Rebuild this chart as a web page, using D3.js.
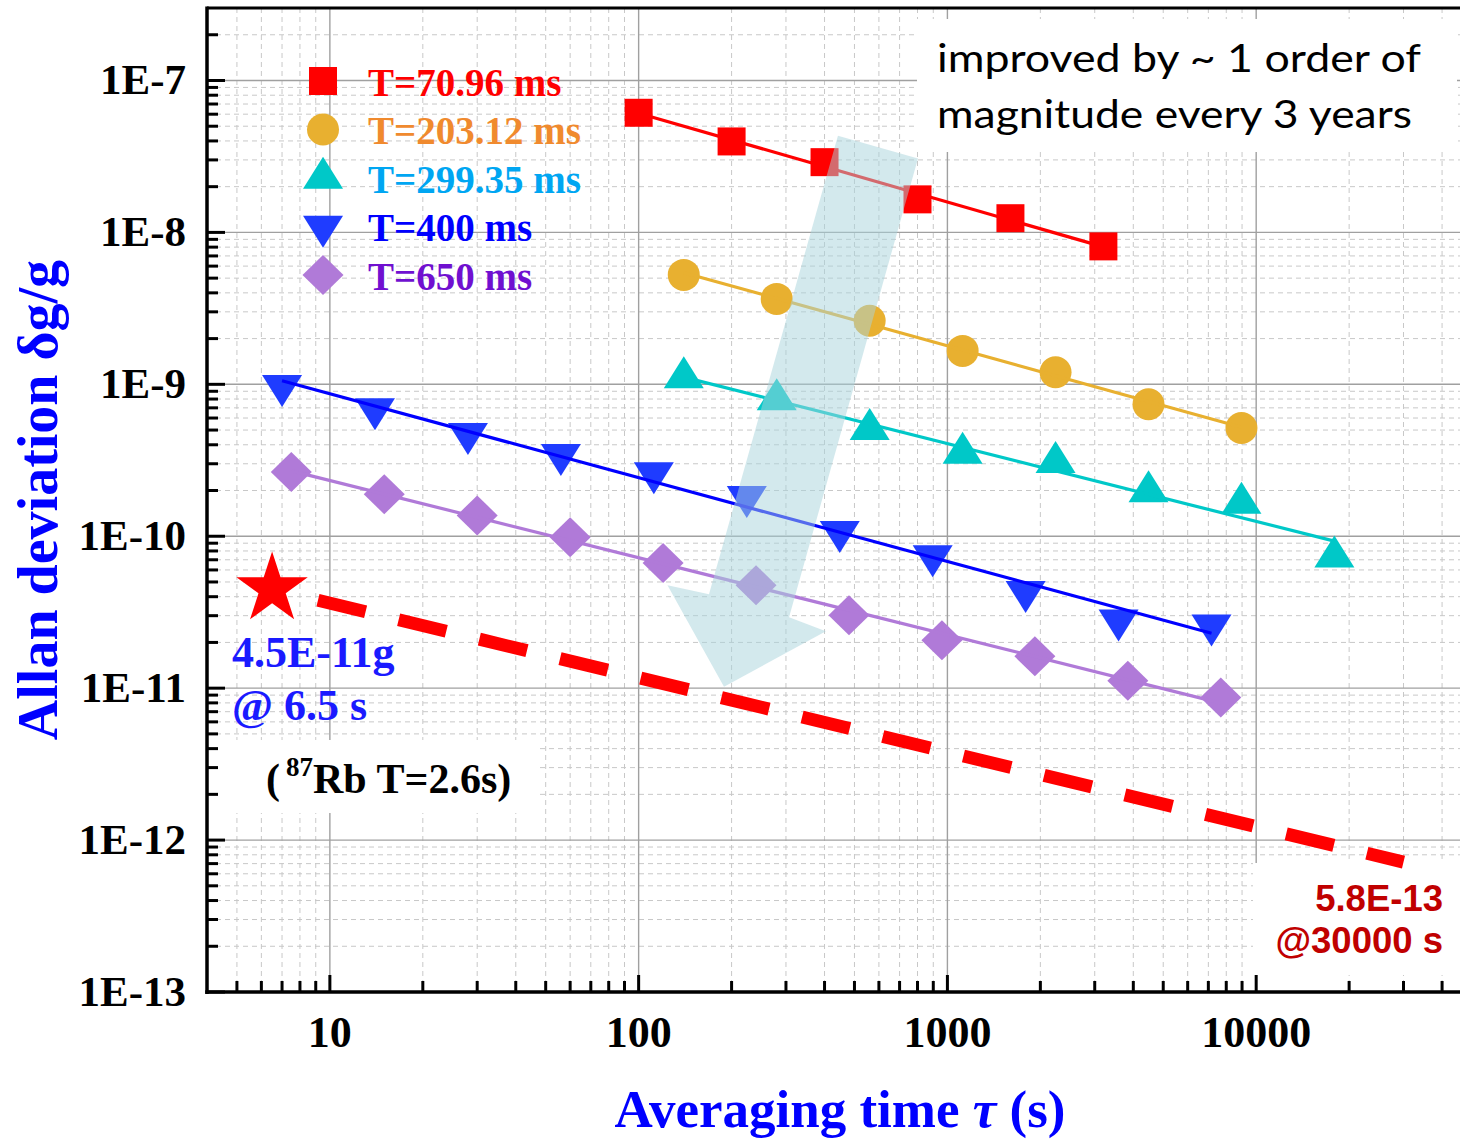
<!DOCTYPE html>
<html>
<head>
<meta charset="utf-8">
<script src="https://cdn.jsdelivr.net/npm/d3@7"></script>
<style>
body{margin:0;background:#fff}
text{font-family:"Times New Roman","Liberation Serif",serif;font-weight:bold}
</style>
</head>
<body>
<div id="chart"></div>
<script>
// data (tau in s, Allan deviation dg/g)
var tau71 = [100, 200, 400, 800, 1600, 3200];
var val71 = [6.13e-8, 3.97e-8, 2.90e-8, 1.65e-8, 1.24e-8, 8.09e-9];

var tau203 = [140, 280, 560, 1120, 2240, 4480, 8960];
var val203 = [5.25e-9, 3.65e-9, 2.62e-9, 1.66e-9, 1.20e-9, 7.39e-10, 5.16e-10];

var tau299 = [140, 280, 560, 1120, 2240, 4480, 8960, 17920];
var val299 = [1.107e-9, 7.93e-10, 5.06e-10, 3.53e-10, 3.07e-10, 1.97e-10, 1.65e-10, 7.32e-11];

var tau400 = [7, 14, 28, 56, 112, 224, 448, 896, 1792, 3584, 7168];
var val400 = [9.79e-10, 6.88e-10, 4.73e-10, 3.44e-10, 2.61e-10, 1.82e-10, 1.07e-10, 7.42e-11, 4.32e-11, 2.80e-11, 2.60e-11];

var tau650 = [7.5, 15, 30, 60, 120, 240, 480, 960, 1920, 3840, 7680];
var val650 = [2.65e-10, 1.89e-10, 1.37e-10, 9.85e-11, 6.67e-11, 4.76e-11, 3.02e-11, 2.07e-11, 1.62e-11, 1.12e-11, 8.68e-12];

var seriesNames = ["T=70.96 ms", "T=203.12 ms", "T=299.35 ms", "T=400 ms", "T=650 ms"];

// Rb record point and projected line
var starTau = 6.5, starVal = 4.5e-11;
var projTau = [9.15, 30000];
var projVal = [3.79e-11, 7.16e-13];

// trend arrow outline (tau, value)
var arrowTau = [442, 803, 307, 404, 189, 124, 169];
var arrowVal = [4.32e-8, 3.07e-8, 2.93e-11, 2.37e-11, 1.02e-11, 4.76e-11, 4.15e-11];

var xTickLabels = ["10", "100", "1000", "10000"];
var yTickLabels = ["1E-7", "1E-8", "1E-9", "1E-10", "1E-11", "1E-12", "1E-13"];

var W = 1460, H = 1139;
var L = 207, R = 1472, T = 8, B = 992;

var x = d3.scaleLog().domain([4, 50000]).range([L, R]);
var y = d3.scaleLog().domain([1e-13, 3e-7]).range([B, T]);

var svg = d3.select("#chart").append("svg")
  .attr("width", W).attr("height", H);

svg.append("defs").append("clipPath").attr("id", "plot")
  .append("rect").attr("x", L).attr("y", T).attr("width", R - L).attr("height", B - T);

var plot = svg.append("g").attr("clip-path", "url(#plot)");

// minor / major tick values
var xMinor = [], yMinor = [];
for (var e = 0; e <= 4; e++) {
  for (var m = 2; m <= 9; m++) {
    var v = m * Math.pow(10, e);
    if (v > 4 && v < 50000) xMinor.push(v);
  }
}
for (var e2 = -13; e2 <= -7; e2++) {
  for (var m2 = 2; m2 <= 9; m2++) {
    var v2 = m2 * Math.pow(10, e2);
    if (v2 < 3e-7) yMinor.push(v2);
  }
}
var xMajor = xTickLabels.map(Number);
var yMajor = yTickLabels.map(Number);

// grid
plot.selectAll(".gxm").data(xMinor).enter().append("line")
  .attr("x1", d => x(d)).attr("x2", d => x(d)).attr("y1", T).attr("y2", B)
  .attr("stroke", "#c8c8c8").attr("stroke-width", 1).attr("stroke-dasharray", "5,4");
plot.selectAll(".gym").data(yMinor).enter().append("line")
  .attr("y1", d => y(d)).attr("y2", d => y(d)).attr("x1", L).attr("x2", R)
  .attr("stroke", "#c8c8c8").attr("stroke-width", 1).attr("stroke-dasharray", "5,4");
plot.selectAll(".gxM").data(xMajor).enter().append("line")
  .attr("x1", d => x(d)).attr("x2", d => x(d)).attr("y1", T).attr("y2", B)
  .attr("stroke", "#a0a0a0").attr("stroke-width", 1.4);
plot.selectAll(".gyM").data(yMajor).enter().append("line")
  .attr("y1", d => y(d)).attr("y2", d => y(d)).attr("x1", L).attr("x2", R)
  .attr("stroke", "#a0a0a0").attr("stroke-width", 1.4);

// white boxes behind annotations
plot.append("rect").attr("x", 917).attr("y", 19).attr("width", 540).attr("height", 133).attr("fill", "#fff");
plot.append("rect").attr("x", 209).attr("y", 740).attr("width", 328).attr("height", 73).attr("fill", "#fff");
plot.append("rect").attr("x", 1253).attr("y", 863).attr("width", 210).attr("height", 112).attr("fill", "#fff");

// symbols
function tri(w, h, down) {
  var s = down ? -1 : 1;
  return "M0," + (-s * 2 * h / 3) + "L" + (w / 2) + "," + (s * h / 3) + "L" + (-w / 2) + "," + (s * h / 3) + "Z";
}
var symPath = {
  square: "M-14,-14H14V14H-14Z",
  circle: d3.symbol(d3.symbolCircle, Math.PI * 16 * 16)(),
  up: tri(40, 32, false),
  down: tri(40, 32, true),
  diamond: "M0,-20L20.5,0L0,20L-20.5,0Z"
};

var series = [
  {name: seriesNames[0], tau: tau71, val: val71, sym: "square", fill: "#ff0000", line: "#ff0000", text: "#ff0000"},
  {name: seriesNames[1], tau: tau203, val: val203, sym: "circle", fill: "#e8b030", line: "#e8b030", text: "#f08a2e"},
  {name: seriesNames[2], tau: tau299, val: val299, sym: "up", fill: "#00c8c8", line: "#00c8c8", text: "#00a6f2"},
  {name: seriesNames[3], tau: tau400, val: val400, sym: "down", fill: "#1f3cff", line: "#0000ff", text: "#0000ff"},
  {name: seriesNames[4], tau: tau650, val: val650, sym: "diamond", fill: "#b07ad8", line: "#b07ad8", text: "#7010d0"}
];

// power-law fit in log-log space
function fit(s) {
  var lx = s.tau.map(Math.log10), ly = s.val.map(Math.log10);
  var mx = d3.mean(lx), my = d3.mean(ly);
  var sxy = d3.sum(lx, (d, i) => (d - mx) * (ly[i] - my));
  var sxx = d3.sum(lx, d => (d - mx) * (d - mx));
  var k = sxy / sxx;
  return function(t) { return Math.pow(10, my + k * (Math.log10(t) - mx)); };
}

// projected line
plot.append("line")
  .attr("x1", x(projTau[0])).attr("y1", y(projVal[0]))
  .attr("x2", x(projTau[1])).attr("y2", y(projVal[1]))
  .attr("stroke", "#ff0000").attr("stroke-width", 13).attr("stroke-dasharray", "49,34");

series.forEach(function(s) {
  var g = plot.append("g");
  g.selectAll("path.m").data(s.tau).enter().append("path")
    .attr("d", symPath[s.sym])
    .attr("transform", (d, i) => "translate(" + x(d) + "," + y(s.val[i]) + ")")
    .attr("fill", s.fill);
  var f = fit(s);
  var t0 = s.tau[0], t1 = s.tau[s.tau.length - 1];
  g.append("line")
    .attr("x1", x(t0)).attr("y1", y(f(t0)))
    .attr("x2", x(t1)).attr("y2", y(f(t1)))
    .attr("stroke", s.line).attr("stroke-width", 3.2);
});

// arrow
plot.append("path")
  .attr("d", d3.line()(arrowTau.map((t, i) => [x(t), y(arrowVal[i])])) + "Z")
  .attr("fill", "#a8d4dc").attr("fill-opacity", 0.5);

// star
var starPts = [];
for (var k = 0; k < 10; k++) {
  var r = k % 2 ? 37.5 * 0.382 : 37.5;
  var a = -Math.PI / 2 + k * Math.PI / 5;
  starPts.push([r * Math.cos(a), r * Math.sin(a)]);
}
plot.append("path")
  .attr("d", d3.line()(starPts) + "Z")
  .attr("transform", "translate(" + x(starTau) + "," + y(starVal) + ")")
  .attr("fill", "#ff0000");

// legend
var leg = svg.append("g");
series.forEach(function(s, i) {
  var ly = 81 + i * 48.5;
  leg.append("path").attr("d", symPath[s.sym])
    .attr("transform", "translate(323," + ly + ")").attr("fill", s.fill);
  leg.append("text").attr("x", 368).attr("y", ly + 14.5)
    .attr("font-size", 39).attr("fill", s.text).text(s.name);
});

// frame
svg.append("line").attr("x1", L).attr("x2", W).attr("y1", T).attr("y2", T)
  .attr("stroke", "#000").attr("stroke-width", 3);
svg.append("line").attr("x1", L).attr("x2", L).attr("y1", T - 1.5).attr("y2", B + 2)
  .attr("stroke", "#000").attr("stroke-width", 3.5);
svg.append("line").attr("x1", L - 1.75).attr("x2", W).attr("y1", B).attr("y2", B)
  .attr("stroke", "#000").attr("stroke-width", 3.5);

// ticks
svg.selectAll(".xt").data(xMinor.concat(xMajor)).enter().append("line")
  .attr("x1", d => x(d)).attr("x2", d => x(d))
  .attr("y1", B).attr("y2", d => B - (xMajor.indexOf(d) >= 0 ? 17 : 11))
  .attr("stroke", "#000").attr("stroke-width", 3);
svg.selectAll(".yt").data(yMinor.concat(yMajor)).enter().append("line")
  .attr("y1", d => y(d)).attr("y2", d => y(d))
  .attr("x1", L).attr("x2", d => L + (yMajor.indexOf(d) >= 0 ? 18 : 11))
  .attr("stroke", "#000").attr("stroke-width", 3);

// tick labels
svg.selectAll(".xl").data(xTickLabels).enter().append("text")
  .attr("x", d => x(+d)).attr("y", 1047).attr("text-anchor", "middle")
  .attr("font-size", 44).attr("fill", "#000").text(d => d);
svg.selectAll(".yl").data(yTickLabels).enter().append("text")
  .attr("x", 186).attr("y", d => y(+d) + 14).attr("text-anchor", "end")
  .attr("font-size", 43).attr("fill", "#000").text(d => d);

// axis titles
svg.append("text")
  .attr("transform", "translate(57,500) rotate(-90)")
  .attr("text-anchor", "middle").attr("font-size", 56).attr("fill", "#0000ff")
  .text("Allan deviation \u03b4g/g");
var xt = svg.append("text").attr("x", 840).attr("y", 1127)
  .attr("text-anchor", "middle").attr("font-size", 53).attr("fill", "#0000ff");
xt.append("tspan").text("Averaging time ");
xt.append("tspan").attr("font-style", "italic").text("\u03c4");
xt.append("tspan").text(" (s)");

// annotations
var note = svg.append("g").attr("font-size", 38).attr("fill", "#000");
note.append("text").attr("x", 937).attr("y", 72)
  .style("font-family", "Lato, 'Open Sans', sans-serif").style("font-weight", "normal")
  .attr("textLength", 484).attr("lengthAdjust", "spacingAndGlyphs")
  .text("improved by ~ 1 order of");
note.append("text").attr("x", 937).attr("y", 128)
  .style("font-family", "Lato, 'Open Sans', sans-serif").style("font-weight", "normal")
  .attr("textLength", 475).attr("lengthAdjust", "spacingAndGlyphs")
  .text("magnitude every 3 years");

svg.append("text").attr("x", 232).attr("y", 667).attr("font-size", 44).attr("fill", "#1a1aff").text("4.5E-11g");
svg.append("text").attr("x", 232).attr("y", 720).attr("font-size", 44).attr("fill", "#1a1aff").text("@ 6.5 s");

var rb = svg.append("text").attr("x", 266).attr("y", 793).attr("font-size", 42).attr("fill", "#000");
rb.append("tspan").text("(");
rb.append("tspan").attr("font-size", 27).attr("dx", 6).attr("dy", -17).text("87");
rb.append("tspan").attr("dy", 17).text("Rb T=2.6s)");

var sans = "Arial, 'Liberation Sans', sans-serif";
svg.append("text").attr("x", 1443).attr("y", 911).attr("text-anchor", "end")
  .style("font-family", sans).attr("font-size", 36.5).attr("fill", "#c00000").text("5.8E-13");
svg.append("text").attr("x", 1443).attr("y", 953).attr("text-anchor", "end")
  .style("font-family", sans).attr("font-size", 36.5).attr("fill", "#c00000").text("@30000 s");
</script>
</body>
</html>
